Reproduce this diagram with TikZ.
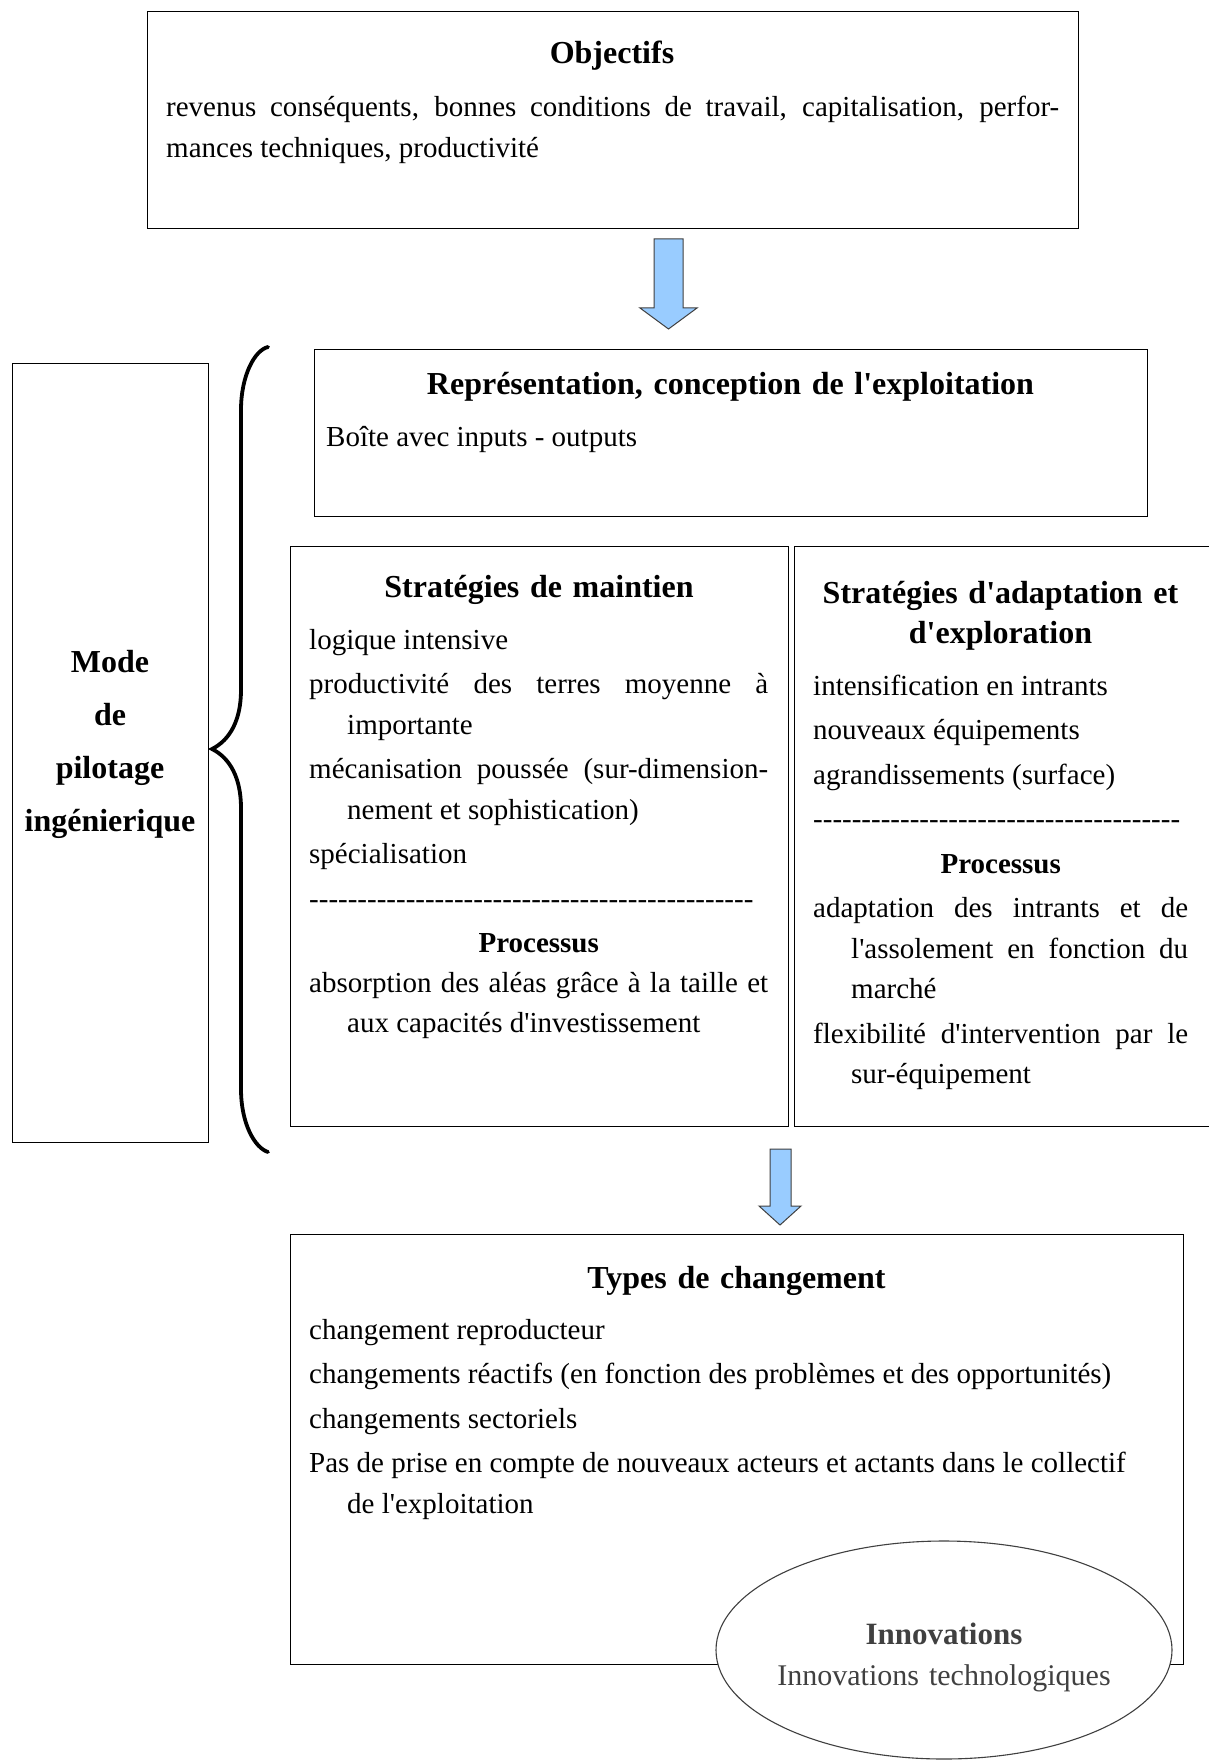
\documentclass[tikz,border=0pt]{standalone}
\usepackage{fontspec}
\setmainfont{Liberation Serif}[Ligatures=TeXOff]
\usepackage{xcolor}
\usepackage{tikz}
\usetikzlibrary{shapes.geometric}

\definecolor{arrowblue}{HTML}{99CCFF}
\definecolor{innogrey}{HTML}{404040}

\newcommand{\hstart}{\parskip=4pt\hangindent=38pt\hangafter=1 }
\newcommand{\hpar}{\par\hstart}
\tolerance=10000
\hyphenpenalty=10000
\exhyphenpenalty=10000

\begin{document}
\begin{tikzpicture}[x=1pt, y=1pt]

\tikzset{
  frame/.style    = {rectangle, draw=black, line width=1.4pt, fill=white,
                     inner sep=0pt, anchor=north west},
  heading/.style  = {font=\fontsize{32}{40}\selectfont\bfseries, align=center,
                     inner sep=0pt, anchor=base},
  body/.style     = {font=\fontsize{29}{40.5}\selectfont, align=justify,
                     inner sep=0pt, anchor=base west},
  modetext/.style = {font=\fontsize{32}{53}\selectfont\bfseries, align=center,
                     inner sep=0pt, anchor=base, text width=190pt},
  innotext/.style = {font=\fontsize{30}{41}\selectfont, text=innogrey,
                     align=center, inner sep=0pt, anchor=base, text width=420pt},
  bigarrow/.style = {draw=black!75, line width=1pt, fill=arrowblue},
  brace/.style    = {line width=3.8pt, line cap=round}
}

%% ── Page ────────────────────────────────────────────────────────
\fill[white] (0,0) rectangle (1208,-1760);
\useasboundingbox (0,0) rectangle (1208,-1760);

%% ── Objectifs ───────────────────────────────────────────────────
\node[frame, minimum width=931pt, minimum height=217pt] (obj) at (147,-11) {};
\node[heading, text width=900pt] (objT) at (612,-64) {Objectifs};
\node[body, text width=893pt] (objB) at (166,-117)
      {revenus conséquents, bonnes conditions de travail, capitalisation, perfor-\linebreak mances techniques, productivité\par};

%% ── Arrow: Objectifs -> Représentation ──────────────────────────
\draw[bigarrow] (654,-239) -- (683,-239) -- (683,-308) -- (697,-308)
      -- (668.5,-329) -- (640,-308) -- (654,-308) -- cycle;

%% ── Mode de pilotage ────────────────────────────────────────────
\node[frame, line width=1.2pt, minimum width=196pt, minimum height=779pt] (mode) at (12,-363) {};
\node[modetext] (modeT) at (110,-672) {Mode\\de\\pilotage\\ingénierique};

%% ── Brace ───────────────────────────────────────────────────────
\draw[brace] (268,-347) .. controls (255,-350) and (241,-375) .. (241,-410)
      -- (241,-690) .. controls (241,-720) and (230,-740) .. (212,-749)
      .. controls (230,-758) and (241,-778) .. (241,-808)
      -- (241,-1089) .. controls (241,-1124) and (255,-1148) .. (268,-1152);

%% ── Représentation ──────────────────────────────────────────────
\node[frame, minimum width=833pt, minimum height=167pt] (repr) at (314,-349) {};
\node[heading, text width=820pt] (reprT) at (730.5,-394)
      {Représentation, conception de l'exploitation};
\node[body, text width=800pt] (reprB) at (326,-446) {Boîte avec inputs - outputs\par};

%% ── Stratégies de maintien ──────────────────────────────────────
\node[frame, minimum width=498pt, minimum height=580pt] (maint) at (290,-546) {};
\node[heading, text width=480pt] (maintT) at (539,-597) {Stratégies de maintien};
\node[body, text width=459pt] (maintB) at (309,-649)
      {\hstart logique intensive
       \hpar productivité des terres moyenne à\linebreak importante
       \hpar mécanisation poussée (sur-dimension-\linebreak nement et sophistication)
       \hpar spécialisation
       \hpar ----------------------------------------------
       \par{\centering\bfseries Processus\par}
       \hpar\vspace{-5pt}absorption des aléas grâce à la taille et\linebreak aux capacités d'investissement\par};

%% ── Stratégies d'adaptation ─────────────────────────────────────
\node[frame, minimum width=425pt, minimum height=580pt] (adapt) at (794,-546) {};
\node[heading, text width=400pt] (adaptT) at (1000.5,-603)
      {Stratégies d'adaptation et\\d'exploration};
\node[body, text width=375pt] (adaptB) at (813,-695)
      {\hstart intensification en intrants
       \hpar nouveaux équipements
       \hpar agrandissements (surface)
       \hpar --------------------------------------
       \par{\centering\bfseries Processus\par}
       \hpar adaptation des intrants et de\linebreak l'assolement en fonction du\linebreak marché
       \hpar flexibilité d'intervention par le\linebreak sur-équipement\par};

%% ── Arrow: Stratégies -> Types ──────────────────────────────────
\draw[bigarrow] (770,-1149) -- (791,-1149) -- (791,-1206) -- (801,-1206)
      -- (780,-1225) -- (759,-1206) -- (770,-1206) -- cycle;

%% ── Types de changement ─────────────────────────────────────────
\node[frame, minimum width=893pt, minimum height=430pt] (types) at (290,-1234) {};
\node[heading, text width=870pt] (typesT) at (736.5,-1288) {Types de changement};
\node[body, text width=855pt] (typesB) at (309,-1339)
      {\hstart changement reproducteur
       \hpar changements réactifs (en fonction des problèmes et des opportunités)
       \hpar changements sectoriels
       \hpar Pas de prise en compte de nouveaux acteurs et actants dans le collectif\newline de l'exploitation\par};

%% ── Innovations ─────────────────────────────────────────────────
\node[ellipse, draw=innogrey, line width=1.1pt, fill=white, inner sep=0pt,
      minimum width=456pt, minimum height=218pt] (inno) at (944,-1650) {};
\node[innotext] (innoT) at (944,-1644)
      {{\fontsize{31}{41}\selectfont\bfseries Innovations}\\Innovations technologiques};

\end{tikzpicture}
\end{document}
